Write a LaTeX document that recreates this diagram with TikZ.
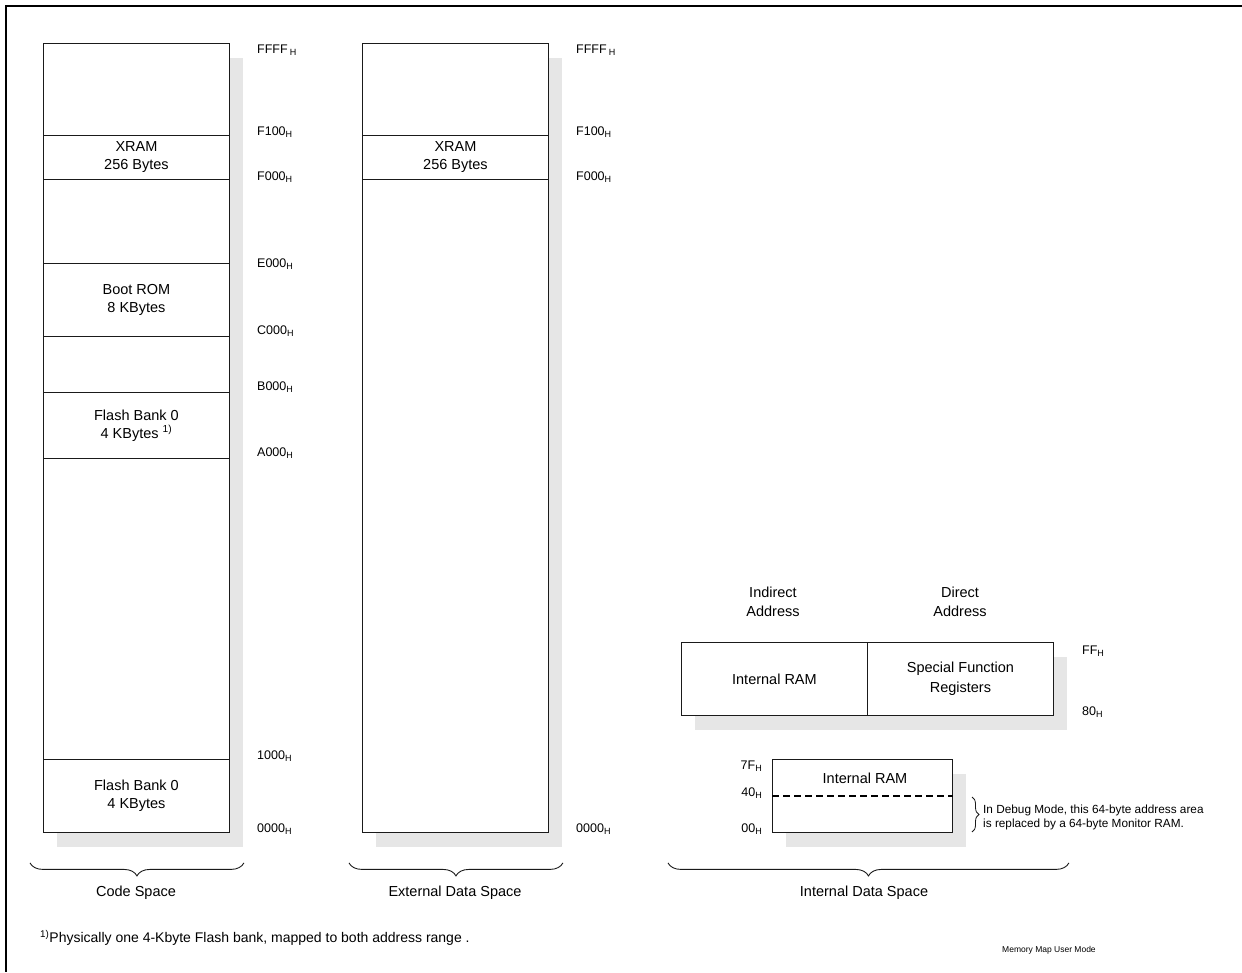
\documentclass[tikz,border=0pt]{standalone}
\usepackage{fontspec}
\setmainfont{Liberation Sans}
\usepackage{tikz}
\usetikzlibrary{positioning,shadows,decorations.pathreplacing}
\definecolor{Shade}{HTML}{E6E6E6}
\definecolor{Ink}{HTML}{1A1A1A}
\newcommand{\hx}[1]{#1\raisebox{-2.5pt}{\fontsize{9}{9}\selectfont H}}

\begin{document}
\begin{tikzpicture}[x=1pt,y=-1pt,
  column/.style={draw=Ink,line width=0.9pt,fill=white,anchor=north west,inner sep=0pt,minimum width=186pt,align=center,font=\fontsize{14.5}{18}\selectfont,drop shadow={shadow xshift=14pt,shadow yshift=-15pt,fill=Shade,opacity=1}},
  region/.style={draw=Ink,line width=0.9pt,anchor=north west,inner sep=0pt,minimum width=186pt,align=center,font=\fontsize{14.5}{18}\selectfont},
  boxtext/.style={align=center,inner sep=0pt,font=\fontsize{14.5}{19}\selectfont},
  addr/.style={anchor=west,inner sep=0pt,font=\fontsize{12.5}{14}\selectfont},
  addrl/.style={anchor=east,inner sep=0pt,font=\fontsize{12.5}{14}\selectfont},
  spanlbl/.style={inner sep=0pt,font=\fontsize{14.5}{18}\selectfont},
  spanbrace/.style={decorate,decoration={brace,mirror,amplitude=13pt},line width=0.9pt,draw=Ink},
  smallbrace/.style={decorate,decoration={brace,amplitude=7pt},line width=0.8pt,draw=Ink},
  debugline/.style={line width=2pt,dash pattern=on 7pt off 4pt}
]
\useasboundingbox (0,0) rectangle (1242,972);
\draw[line width=2.5pt] (1242,6) -- (6,6) -- (6,972);

\node[column,minimum height=789pt] (code) at (43,43) {};
\node[region,minimum height=44pt] (cxram) at (43,135) {XRAM\\256 Bytes};
\node[region,minimum height=73pt] (cboot) at (43,263) {Boot ROM\\8 KBytes};
\node[region,minimum height=66pt] (cbank) at (43,392) {Flash Bank 0\\4 KBytes \textsuperscript{1)}};
\node[region,minimum height=73pt] (cbase) at (43,759) {Flash Bank 0\\4 KBytes};
\node[addr] (cffff) at (257,50) {\hx{FFFF\,}};
\node[addr] (cf100) at (257,132) {\hx{F100}};
\node[addr] (cf000) at (257,177) {\hx{F000}};
\node[addr] (ce000) at (257,264) {\hx{E000}};
\node[addr] (cc000) at (257,331) {\hx{C000}};
\node[addr] (cb000) at (257,387) {\hx{B000}};
\node[addr] (ca000) at (257,453) {\hx{A000}};
\node[addr] (c1000) at (257,756) {\hx{1000}};
\node[addr] (c0000) at (257,829) {\hx{0000}};

\node[column,minimum height=789pt] (ext) at (362,43) {};
\node[region,minimum height=44pt] (exram) at (362,135) {XRAM\\256 Bytes};
\node[addr] (effff) at (576,50) {\hx{FFFF\,}};
\node[addr] (ef100) at (576,132) {\hx{F100}};
\node[addr] (ef000) at (576,177) {\hx{F000}};
\node[addr] (e0000) at (576,829) {\hx{0000}};

\node[boxtext] (indir) at (773,602) {Indirect\\Address};
\node[boxtext] (dir) at (960,602) {Direct\\Address};
\node[column,minimum height=73pt] (iram) at (681,642) {Internal RAM};
\node[column,minimum height=73pt,font=\fontsize{14.5}{20}\selectfont] (sfr) at (867,642) {Special Function\\Registers};
\node[addr] (iff) at (1082,651) {\hx{FF}};
\node[addr] (i80) at (1082,712) {\hx{80}};

\node[column,minimum width=180pt,minimum height=73pt] (lram) at (772,759) {};
\node[boxtext] (lramtxt) at (865,778) {Internal RAM};
\draw[debugline] (lram.west |- 0,796) -- (lram.east |- 0,796);
\node[addrl] (l7f) at (762,766) {\hx{7F}};
\node[addrl] (l40) at (762,793) {\hx{40}};
\node[addrl] (l00) at (762,829) {\hx{00}};
\coordinate (dbgtop) at (972,797);
\coordinate (dbgbot) at (972,832);
\draw[smallbrace] (dbgtop) -- (dbgbot);
\node[anchor=west,align=left,inner sep=0pt,font=\fontsize{11.8}{14}\selectfont] (dbgnote) at (983,817) {In Debug Mode, this 64-byte address area\\is replaced by a 64-byte Monitor RAM.};

\draw[spanbrace] ([xshift=-13pt,yshift=-30pt]code.south west) -- ([xshift=14pt,yshift=-30pt]code.south east);
\draw[spanbrace] ([xshift=-13pt,yshift=-30pt]ext.south west) -- ([xshift=14pt,yshift=-30pt]ext.south east);
\draw[spanbrace] ([xshift=-13pt,yshift=-147pt]iram.south west) -- ([xshift=15pt,yshift=-147pt]sfr.south east);
\node[spanlbl] (codelbl) at (136,893) {Code Space};
\node[spanlbl] (extlbl) at (455,893) {External Data Space};
\node[spanlbl] (intlbl) at (864,893) {Internal Data Space};

\node[anchor=west,inner sep=0pt,font=\fontsize{14}{16}\selectfont] (fnote) at (40,938) {\textsuperscript{1)}Physically one 4-Kbyte Flash bank, mapped to both address range .};
\node[anchor=west,inner sep=0pt,font=\fontsize{8.5}{10}\selectfont] (caption) at (1002,950) {Memory Map User Mode};
\end{tikzpicture}
\end{document}
